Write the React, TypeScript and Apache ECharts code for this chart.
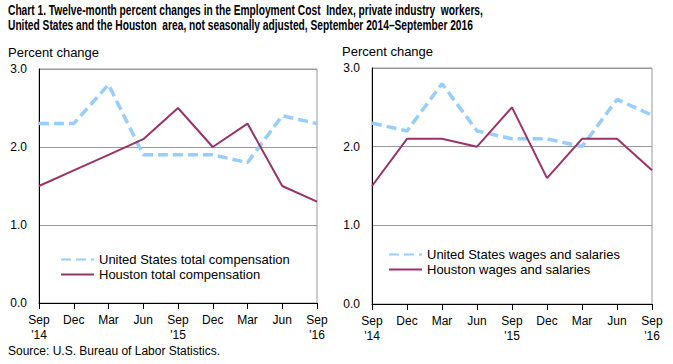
import React, { useEffect, useRef } from "react";
import * as echarts from "echarts";

const categories = ["Sep\n'14", "Dec", "Mar", "Jun", "Sep\n'15", "Dec", "Mar", "Jun", "Sep\n'16"];
const usTotal = [2.3, 2.3, 2.8, 1.9, 1.9, 1.9, 1.8, 2.4, 2.3];
const houstonTotal = [1.5, 1.7, 1.9, 2.1, 2.5, 2.0, 2.3, 1.5, 1.3];
const usWages = [2.3, 2.2, 2.8, 2.2, 2.1, 2.1, 2.0, 2.6, 2.4];
const houstonWages = [1.5, 2.1, 2.1, 2.0, 2.5, 1.6, 2.1, 2.1, 1.7];
const seriesNames = [
  "United States total compensation",
  "Houston total compensation",
  "United States wages and salaries",
  "Houston wages and salaries",
];
const titleLines = [
  "Chart 1. Twelve-month percent changes in the Employment Cost  Index, private industry  workers,",
  "United States and the Houston  area, not seasonally adjusted, September 2014–September 2016",
];

const FONT = "Arial, 'Liberation Sans', sans-serif";
const US_COLOR = "#99CCFF";
const HOU_COLOR = "#993366";

export default function App() {
  const ref = useRef<HTMLDivElement>(null);
  useEffect(() => {
    if (!ref.current) return;
    const chart = echarts.init(ref.current, undefined, { renderer: "svg" });
    const xAxisBase = (gridIndex: number) => ({
      type: "category" as const,
      gridIndex,
      data: categories,
      boundaryGap: false,
      axisLine: { show: true, lineStyle: { color: "#000", width: 1 } },
      axisTick: { show: true, length: 6, lineStyle: { color: "#000" } },
      axisLabel: { color: "#000", fontSize: 12, fontFamily: FONT, margin: 9, lineHeight: 15, interval: 0 },
      splitLine: { show: false },
    });
    const yAxisBase = (gridIndex: number) => ({
      type: "value" as const,
      gridIndex,
      min: 0,
      max: 3,
      interval: 1,
      axisLine: { show: true, lineStyle: { color: "#000", width: 1 } },
      axisTick: { show: false },
      axisLabel: {
        color: "#000",
        fontSize: 12,
        fontFamily: FONT,
        margin: 12,
        formatter: (v: number) => v.toFixed(1),
      },
      splitLine: { show: true, lineStyle: { color: "#999", width: 1 } },
      name: "Percent change",
      nameLocation: "end" as const,
      nameGap: 10,
      nameTextStyle: { color: "#000", fontSize: 13, fontFamily: FONT, align: "left" as const, padding: [0, 0, 0, gridIndex === 0 ? -31 : -30] },
    });
    const usLine = { color: US_COLOR, width: 3.5, type: [10, 5] as number[] };
    const houLine = { color: HOU_COLOR, width: 2, type: "solid" as const };
    const legendBase = {
      orient: "vertical" as const,
      padding: 0,
      itemWidth: 33,
      itemHeight: 14,
      itemGap: 2,
      itemStyle: { opacity: 0 },
      textStyle: { color: "#000", fontSize: 13, fontFamily: FONT },
    };
    chart.setOption({
      animation: false,
      backgroundColor: "#fff",
      grid: [
        { left: 39, top: 69, width: 278, height: 234, show: true, borderColor: "#999", borderWidth: 1, containLabel: false },
        { left: 372, top: 68, width: 280, height: 236, show: true, borderColor: "#999", borderWidth: 1, containLabel: false },
      ],
      xAxis: [xAxisBase(0), xAxisBase(1)],
      yAxis: [yAxisBase(0), yAxisBase(1)],
      legend: [
        { ...legendBase, left: 60, top: 253, data: [seriesNames[0], seriesNames[1]] },
        { ...legendBase, left: 388, top: 248, data: [seriesNames[2], seriesNames[3]] },
      ],
      series: [
        { name: seriesNames[0], type: "line", xAxisIndex: 0, yAxisIndex: 0, data: usTotal, symbol: "none", lineStyle: usLine, itemStyle: { color: US_COLOR }, z: 3 },
        { name: seriesNames[1], type: "line", xAxisIndex: 0, yAxisIndex: 0, data: houstonTotal, symbol: "none", lineStyle: houLine, itemStyle: { color: HOU_COLOR }, z: 4 },
        { name: seriesNames[2], type: "line", xAxisIndex: 1, yAxisIndex: 1, data: usWages, symbol: "none", lineStyle: usLine, itemStyle: { color: US_COLOR }, z: 3 },
        { name: seriesNames[3], type: "line", xAxisIndex: 1, yAxisIndex: 1, data: houstonWages, symbol: "none", lineStyle: houLine, itemStyle: { color: HOU_COLOR }, z: 4 },
      ],
      graphic: [
        {
          type: "text",
          x: 8,
          y: 3,
          scaleX: 0.73,
          style: {
            text: titleLines.join("\n"),
            fill: "#000",
            font: "bold 14px 'Liberation Sans', Arial, sans-serif",
            lineHeight: 15,
          },
        },
        {
          type: "text",
          left: 8,
          top: 345,
          style: { text: "Source: U.S. Bureau of Labor Statistics.", fill: "#000", fontSize: 12, fontFamily: FONT },
        },
      ],
    });
    return () => chart.dispose();
  }, []);
  return <div ref={ref} style={{ position: "fixed", left: 0, top: 0, width: 673, height: 364 }} />;
}
